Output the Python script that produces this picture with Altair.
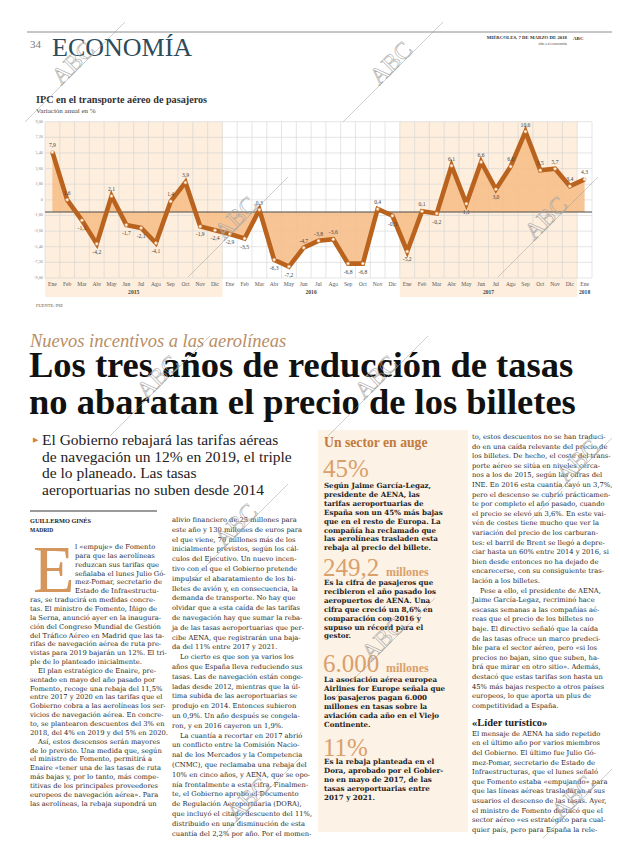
import altair as alt
import pandas as pd

# ------------------------------------------------------------------ chart data
months = ["Ene", "Feb", "Mar", "Abr", "May", "Jun", "Jul", "Ago", "Sep", "Oct", "Nov", "Dic"] * 3 + ["Ene"]
ipc_values = [7.9, 1.6, -1.1, -4.2, 2.1, -1.7, -2.1, -4.1, 1.4, 3.9, -1.9, -2.4,
              -2.9, -3.5, 0.3, -6.3, -7.2, -4.7, -3.8, -3.6, -6.8, -6.8, 0.4, -0.5,
              -5.2, 0.1, -0.2, 6.1, 1.1, 6.6, 3.0, 6.0, 10.6, 5.5, 5.7, 3.4,
              4.3]
label_above = [1, 1, 0, 0, 1, 0, 0, 0, 1, 1, 0, 0,
               0, 0, 1, 0, 0, 1, 1, 1, 0, 0, 1, 0,
               0, 1, 0, 1, 0, 1, 0, 1, 1, 1, 1, 1,
               1]
year_names = ["2015", "2016", "2017", "2018"]
year_first_month = [0, 12, 24, 36]
year_last_month = [11, 23, 35, 36]
shaded_years = ["2015", "2017"]
ytick_values = [-8.7, -6.64, -4.58, -2.52, -0.46, 1.6, 3.66, 5.72, 7.78, 9.84, 11.9]
ytick_labels = ["-9,00", "-7,20", "-5,40", "-3,60", "-1,80", "0", "1,80", "3,60", "5,40", "7,20", "9,00"]

# ------------------------------------------------------------------ page texts
title = "IPC en el transporte aéreo de pasajeros"
subtitle = "Variación anual en %"
source = "FUENTE: INE"
kicker = "Nuevos incentivos a las aerolíneas"
headline = ["Los tres años de reducción de tasas", "no abaratan el precio de los billetes"]
deck = ["El Gobierno rebajará las tarifas aéreas",
        "de navegación un 12% en 2019, el triple",
        "de lo planeado. Las tasas",
        "aeroportuarias no suben desde 2014"]
# lines starting with ">" open an indented paragraph
left_lines = [
    "l «empuje» de Fomento",
    "para que las aerolíneas",
    "reduzcan sus tarifas que",
    "señalaba el lunes Julio Gó-",
    "mez-Pomar, secretario de",
    "Estado de Infraestructu-",
    "ras, se traducirá en medidas concre-",
    "tas. El ministro de Fomento, Íñigo de",
    "la Serna, anunció ayer en la inaugura-",
    "ción del Congreso Mundial de Gestión",
    "del Tráfico Aéreo en Madrid que las ta-",
    "rifas de navegación aérea de ruta pre-",
    "vistas para 2019 bajarán un 12%. El tri-",
    "ple de lo planteado inicialmente.",
    ">El plan estratégico de Enaire, pre-",
    "sentado en mayo del año pasado por",
    "Fomento, recoge una rebaja del 11,5%",
    "entre 2017 y 2020 en las tarifas que el",
    "Gobierno cobra a las aerolíneas los ser-",
    "vicios de navegación aérea. En concre-",
    "to, se plantearon descuentos del 3% en",
    "2018, del 4% en 2019 y del 5% en 2020.",
    ">Así, estos descensos serán mayores",
    "de lo previsto. Una medida que, según",
    "el ministro de Fomento, permitirá a",
    "Enaire «tener una de las tasas de ruta",
    "más bajas y, por lo tanto, más compe-",
    "titivas de los principales proveedores",
    "europeos de navegación aérea». Para",
    "las aerolíneas, la rebaja supondrá un",
]
middle_lines = [
    "alivio financiero de 25 millones para",
    "este año y 130 millones de euros para",
    "el que viene, 70 millones más de los",
    "inicialmente previstos, según los cál-",
    "culos del Ejecutivo. Un nuevo incen-",
    "tivo con el que el Gobierno pretende",
    "impulsar el abaratamiento de los bi-",
    "lletes de avión y, en consecuencia, la",
    "demanda de transporte. No hay que",
    "olvidar que a esta caída de las tarifas",
    "de navegación hay que sumar la reba-",
    "ja de las tasas aeroportuarias que per-",
    "cibe AENA, que registrarán una baja-",
    "da del 11% entre 2017 y 2021.",
    ">Lo cierto es que son ya varios los",
    "años que España lleva reduciendo sus",
    "tasas. Las de navegación están conge-",
    "ladas desde 2012, mientras que la úl-",
    "tima subida de las aeroportuarias se",
    "produjo en 2014. Entonces subieron",
    "un 0,9%. Un año después se congela-",
    "ron, y en 2016 cayeron un 1,9%.",
    ">La cuantía a recortar en 2017 abrió",
    "un conflicto entre la Comisión Nacio-",
    "nal de los Mercados y la Competencia",
    "(CNMC), que reclamaba una rebaja del",
    "10% en cinco años, y AENA, que se opo-",
    "nía frontalmente a esta cifra. Finalmen-",
    "te, el Gobierno aprobó el Documento",
    "de Regulación Aeroportuaria (DORA),",
    "que incluyó el citado descuento del 11%,",
    "distribuido en una disminución de esta",
    "cuantía del 2,2% por año. Por el momen-",
]
right_lines = [
    "to, estos descuentos no se han traduci-",
    "do en una caída relevante del precio de",
    "los billetes. De hecho, el coste del trans-",
    "porte aéreo se sitúa en niveles cerca-",
    "nos a los de 2015, según las cifras del",
    "INE. En 2016 esta cuantía cayó un 3,7%,",
    "pero el descenso se cubrió prácticamen-",
    "te por completo el año pasado, cuando",
    "el precio se elevó un 3,6%. En este vai-",
    "vén de costes tiene mucho que ver la",
    "variación del precio de los carburan-",
    "tes: el barril de Brent se llegó a depre-",
    "ciar hasta un 60% entre 2014 y 2016, si",
    "bien desde entonces no ha dejado de",
    "encarecerse, con su consiguiente tras-",
    "lación a los billetes.",
    ">Pese a ello, el presidente de AENA,",
    "Jaime García-Legaz, recriminó hace",
    "escasas semanas a las compañías aé-",
    "reas que el precio de los billetes no",
    "baje. El directivo señaló que la caída",
    "de las tasas ofrece un marco predeci-",
    "ble para el sector aéreo, pero «si los",
    "precios no bajan, sino que suben, ha-",
    "brá que mirar en otro sitio». Además,",
    "destacó que estas tarifas son hasta un",
    "45% más bajas respecto a otros países",
    "europeos, lo que aporta un plus de",
    "competitividad a España.",
]
right_heading = "«Líder turístico»"
right_lines_2 = [
    "El mensaje de AENA ha sido repetido",
    "en el último año por varios miembros",
    "del Gobierno. El último fue Julio Gó-",
    "mez-Pomar, secretario de Estado de",
    "Infraestructuras, que el lunes señaló",
    "que Fomento estaba «empujando» para",
    "que las líneas aéreas trasladaran a sus",
    "usuarios el descenso de las tasas. Ayer,",
    "el ministro de Fomento destacó que el",
    "sector aéreo «es estratégico para cual-",
    "quier país, pero para España la rele-",
]
side_heading = "Un sector en auge"
side_numbers = ["45%", "249,2", "6.000", "11%"]
side_units = ["", "millones", "millones", ""]
side_texts = [
    ["Según Jaime García-Legaz,", "presidente de AENA, las", "tarifas aeroportuarias de",
     "España son un 45% más bajas", "que en el resto de Europa. La", "compañía ha reclamado que",
     "las aerolíneas trasladen esta", "rebaja al precio del billete."],
    ["Es la cifra de pasajeros que", "recibieron el año pasado los", "aeropuertos de AENA. Una",
     "cifra que creció un 8,6% en", "comparación con 2016 y", "supuso un récord para el", "gestor."],
    ["La asociación aérea europea", "Airlines for Europe señala que", "los pasajeros pagan 6.000",
     "millones en tasas sobre la", "aviación cada año en el Viejo", "Continente."],
    ["Es la rebaja planteada en el", "Dora, aprobado por el Gobier-", "no en mayo de 2017, de las",
     "tasas aeroportuarias entre", "2017 y 2021."],
]

# ------------------------------------------------------------------ layout helpers
OFF = 8
W, H = 604, 830
PX0, PX1 = 45 - OFF, 592 - OFF
PY_TOP, PY_BOT = 121.7 - OFF, 278 - OFF

SERIF = "Liberation Serif"
BODY = "DejaVu Serif"


def page_text(rows, **style):
    df = pd.DataFrame({"x": [r[0] - OFF for r in rows],
                       "y": [r[1] - OFF for r in rows],
                       "t": [r[2] for r in rows]})
    base = dict(align="left", baseline="middle", font=BODY, fontSize=6.75, color="#2b2b2b")
    base.update(style)
    return alt.Chart(df).mark_text(**base).encode(
        x=alt.X("x:Q", scale=None, axis=None),
        y=alt.Y("y:Q", scale=None, axis=None),
        text=alt.Text("t:N"))


def page_rules(rows, **style):
    df = pd.DataFrame({"x": [r[0] - OFF for r in rows], "y": [r[1] - OFF for r in rows],
                       "x2": [r[2] - OFF for r in rows], "y2": [r[3] - OFF for r in rows]})
    return alt.Chart(df).mark_rule(**style).encode(
        x=alt.X("x:Q", scale=None, axis=None), y=alt.Y("y:Q", scale=None, axis=None),
        x2="x2:Q", y2="y2:Q")


def column(lines, x, y0, step, indent=8):
    rows = []
    for i, s in enumerate(lines):
        if s.startswith(">"):
            rows.append((x + indent, y0 + i * step, s[1:]))
        else:
            rows.append((x, y0 + i * step, s))
    return rows


# ------------------------------------------------------------------ chart
xs = alt.Scale(domain=[-0.5, 36.5], range=[PX0, PX1])
ys = alt.Scale(domain=[-8.7, 11.9], range=[PY_BOT, PY_TOP])

chart_df = pd.DataFrame({"i": list(range(len(ipc_values))), "month": months,
                         "v": ipc_values, "above": label_above,
                         "lbl": [f"{v:.1f}".replace(".", ",") for v in ipc_values]})

band_df = pd.DataFrame({
    "start": [year_first_month[year_names.index(y)] - 0.5 for y in shaded_years],
    "end": [year_last_month[year_names.index(y)] + 0.5 for y in shaded_years]})
bands = alt.Chart(band_df).mark_rect(color="#fdeedd").encode(
    x=alt.X("start:Q", scale=xs, axis=None), x2="end:Q",
    y=alt.value(PY_TOP), y2=alt.value(297 - OFF))

bound_df = pd.DataFrame({"b": [k - 0.5 for k in range(len(ipc_values) + 1)]})
vgrid = alt.Chart(bound_df).mark_rule(color="#d3d3d3", strokeWidth=0.6).encode(
    x=alt.X("b:Q", scale=xs, axis=None), y=alt.value(PY_TOP), y2=alt.value(PY_BOT))

tick_df = pd.DataFrame({"g": ytick_values, "lab": ytick_labels})
hgrid = alt.Chart(tick_df).mark_rule(color="#d3d3d3", strokeWidth=0.6).encode(
    y=alt.Y("g:Q", scale=ys, axis=None), x=alt.value(PX0), x2=alt.value(PX1))
ylab = alt.Chart(tick_df).mark_text(align="right", baseline="middle", fontSize=4.3,
                                    font=SERIF, color="#8a8a8a").encode(
    y=alt.Y("g:Q", scale=ys, axis=None), x=alt.value(PX0 - 2), text="lab:N")

area = alt.Chart(chart_df).mark_area(color="#f6bf89", opacity=0.9).encode(
    x=alt.X("i:Q", scale=xs, axis=None), y=alt.Y("v:Q", scale=ys, axis=None),
    y2=alt.datum(0))
zero = alt.Chart(pd.DataFrame({"z": [0]})).mark_rule(color="#4a4a4a", strokeWidth=1.1).encode(
    y=alt.Y("z:Q", scale=ys, axis=None), x=alt.value(PX0), x2=alt.value(PX1))
line = alt.Chart(chart_df).mark_line(color="#b9631e", strokeWidth=4.6).encode(
    x=alt.X("i:Q", scale=xs, axis=None), y=alt.Y("v:Q", scale=ys, axis=None))
pts = alt.Chart(chart_df).mark_point(shape="circle", filled=True, fill="white", stroke="#e39c5c",
                                     strokeWidth=0.7, size=9, opacity=1).encode(
    x=alt.X("i:Q", scale=xs, axis=None), y=alt.Y("v:Q", scale=ys, axis=None))
lab_up = alt.Chart(chart_df).transform_filter("datum.above == 1").mark_text(
    fontSize=5.6, font=SERIF, color="#444444", dy=-7).encode(
    x=alt.X("i:Q", scale=xs, axis=None), y=alt.Y("v:Q", scale=ys, axis=None), text="lbl:N")
lab_dn = alt.Chart(chart_df).transform_filter("datum.above == 0").mark_text(
    fontSize=5.6, font=SERIF, color="#444444", dy=8).encode(
    x=alt.X("i:Q", scale=xs, axis=None), y=alt.Y("v:Q", scale=ys, axis=None), text="lbl:N")
mon = alt.Chart(chart_df).mark_text(fontSize=5.6, font=SERIF, color="#555555").encode(
    x=alt.X("i:Q", scale=xs, axis=None), y=alt.value(284 - OFF), text="month:N")
year_df = pd.DataFrame({"c": [(a + b) / 2 for a, b in zip(year_first_month, year_last_month)],
                        "y": year_names})
yrs = alt.Chart(year_df).mark_text(fontSize=5.6, font=SERIF, fontWeight="bold", color="#444444").encode(
    x=alt.X("c:Q", scale=xs, axis=None), y=alt.value(292 - OFF), text="y:N")

chart = alt.layer(bands, vgrid, hgrid, ylab, area, zero, line, pts, lab_up, lab_dn, mon, yrs)

# ------------------------------------------------------------------ page
layers = []
layers.append(page_rules([(27, 32, 620, 32)], color="#8c8c8c", strokeWidth=1))
layers.append(page_text([(30, 45, "34")], font=SERIF, fontSize=11, color="#7a7a7a"))
layers.append(page_text([(52, 48, "ECONOMÍA")], font=SERIF, fontSize=26, color="#2d4b5b"))
layers.append(page_text([(567, 38, "MIÉRCOLES, 7 DE MARZO DE 2018")], font=SERIF, fontSize=4.8,
                        fontWeight="bold", align="right", color="#333333"))
layers.append(page_text([(573, 38, "ABC")], font=SERIF, fontSize=5, fontWeight="bold", color="#333333"))
layers.append(page_text([(567, 43.5, "abc.es/economia")], font=SERIF, fontSize=4.3, align="right",
                        color="#555555"))

layers.append(page_text([(36, 100, title)], font=SERIF, fontSize=10.2, fontWeight="bold", color="#333333"))
layers.append(page_text([(36, 111, subtitle)], font=SERIF, fontSize=7, color="#444444"))
layers.append(page_text([(36, 306, source)], font=SERIF, fontSize=4.5, color="#555555"))

layers.append(page_text([(30, 347, kicker)], font=SERIF, fontSize=18.5, fontStyle="italic",
                        baseline="alphabetic", color="#b98e66"))
layers.append(page_text([(29, 377, headline[0]), (29, 414, headline[1])], font=SERIF, fontSize=36.5,
                        fontWeight="bold", baseline="alphabetic", color="#111111"))
layers.append(page_text([(33, 440, "▶")], font="DejaVu Sans", fontSize=7, color="#d9812f"))
layers.append(page_text(column(deck, 42, 445, 16.5), font=SERIF, fontSize=15.5,
                        baseline="alphabetic", color="#222222"))

layers.append(page_rules([(30, 511, 157, 511)], color="#9a9a9a", strokeWidth=2))
layers.append(page_text([(30, 521, "GUILLERMO GINÉS")], font=SERIF, fontSize=6.3, fontWeight="bold",
                        color="#222222"))
layers.append(page_text([(30, 530, "MADRID")], font=SERIF, fontSize=5.5, fontWeight="bold",
                        color="#222222"))
layers.append(page_text([(33, 592, "E")], font=SERIF, fontSize=68, baseline="alphabetic",
                        color="#d4965c"))

left_step = 8.85
left_rows = (column(left_lines[:6], 75, 547, left_step)
             + column(left_lines[6:], 30, 547 + 6 * left_step, left_step))
mid_rows = column(middle_lines, 172, 520, 9.8)
right_step = 9.6
right_rows = column(right_lines, 472, 437, right_step)
right_head_y = 437 + (len(right_lines) - 1) * right_step + 17
right_rows += column(right_lines_2, 472, right_head_y + 11, right_step)
layers.append(page_text(left_rows + mid_rows + right_rows))
layers.append(page_text([(472, right_head_y, right_heading)], font=SERIF, fontSize=10.5,
                        fontWeight="bold", color="#222222"))

# sidebar
side_box = alt.Chart(pd.DataFrame({"a": [0]})).mark_rect(color="#fdf2e6").encode(
    x=alt.value(318 - OFF), x2=alt.value(468 - OFF), y=alt.value(430 - OFF), y2=alt.value(832 - OFF))
layers.append(page_text([(324, 443, side_heading)], font=SERIF, fontSize=13.7, fontWeight="bold",
                        color="#c27c3e"))
num_base = [477, 576, 672, 756]
txt_start = [486, 583, 680, 762]
num_rows, unit_rows, side_rows = [], [], []
for k in range(len(side_numbers)):
    num_rows.append((323, num_base[k], side_numbers[k]))
    if side_units[k]:
        unit_rows.append((386, num_base[k], side_units[k]))
    side_rows += column(side_texts[k], 324, txt_start[k], 8.9)
layers.append(page_text(num_rows, font=SERIF, fontSize=25, baseline="alphabetic", color="#d9a06b"))
layers.append(page_text(unit_rows, font=SERIF, fontSize=12, fontWeight="bold", baseline="alphabetic",
                        color="#d9a06b"))
layers.append(page_text(side_rows, fontSize=7.1, fontWeight="bold", color="#222222"))

# ABC watermarks
wm_centers = [(75, 72), (393, 72), (238, 227), (548, 227), (160, 386), (378, 386),
              (238, 534), (385, 648), (580, 470), (250, 808), (575, 806)]
layers.append(page_rules([(cx - 50, cy + 50, cx + 50, cy - 50) for cx, cy in wm_centers],
                         color="#9a9a9a", strokeWidth=0.6, opacity=0.8))
layers.append(page_text([(cx - 14, cy + 14, "ABC") for cx, cy in wm_centers], font=SERIF, fontSize=24,
                        angle=315, baseline="alphabetic", color="#ffffff", fillOpacity=0.0,
                        stroke="#a8a8a8", strokeWidth=0.6))

full = alt.layer(side_box, chart, *layers).resolve_scale(
    x="independent", y="independent"
).properties(
    width=W, height=H, padding=0, autosize="none", background="white"
).configure_view(stroke=None)

full.save("out.html", embed_options={"renderer": "svg", "actions": False})
